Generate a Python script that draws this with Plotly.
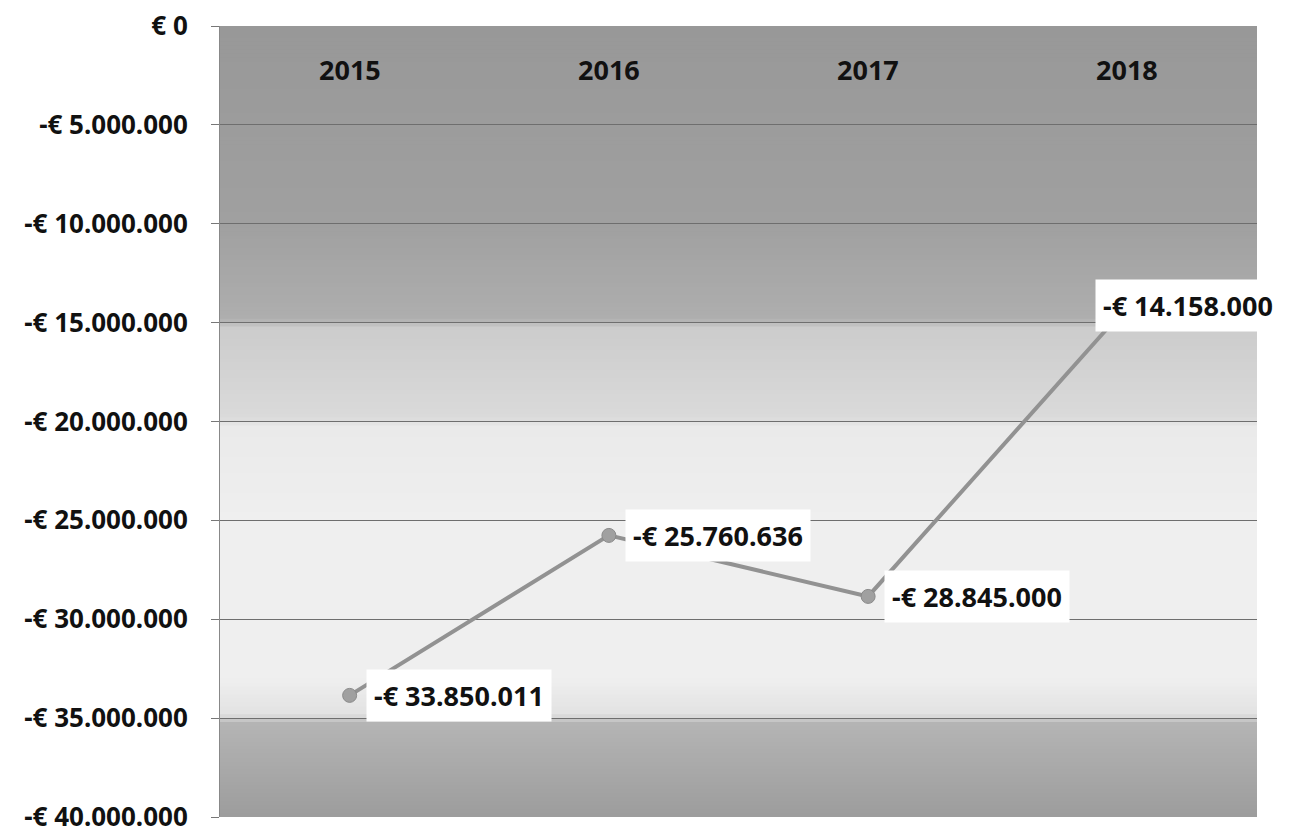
import plotly.graph_objects as go

years = ["2015", "2016", "2017", "2018"]
values = [-33850011, -25760636, -28845000, -14158000]
y_ticks = [0, -5000000, -10000000, -15000000, -20000000, -25000000, -30000000, -35000000, -40000000]


def eur(v):
    s = f"{abs(int(v)):,}".replace(",", ".")
    return ("-€ " if v < 0 else "€ ") + s


y_ticktext = [eur(v) for v in y_ticks]
label_text = [eur(v) for v in values]

FONT = "Noto Sans"

fig = go.Figure()

fig.add_trace(go.Scatter(
    x=list(range(len(years))), y=values, mode="lines+markers",
    line=dict(color="#929292", width=4),
    marker=dict(size=14, color="#a0a0a0", line=dict(color="#8a8a8a", width=1)),
    hoverinfo="skip", showlegend=False, cliponaxis=False,
))

# background gradient (dark top, light middle, dark bottom)
stops = [(0.0, 0x98), (-10e6, 0xa0), (-14.8e6, 0xae), (-15.3e6, 0xcc), (-19.8e6, 0xda),
         (-20.3e6, 0xea), (-25e6, 0xef), (-33e6, 0xef), (-34.8e6, 0xe2), (-35.3e6, 0xb4),
         (-40e6, 0x9c)]
n = 200
shapes = []
for i in range(n):
    y0 = -40e6 * i / n
    y1 = -40e6 * (i + 2) / n  # overlap next band to avoid seams
    ym = -40e6 * (i + 0.5) / n
    c = stops[-1][1]
    for (a, ca), (b, cb) in zip(stops[:-1], stops[1:]):
        if b <= ym <= a:
            t = (a - ym) / (a - b)
            c = int(round(ca + (cb - ca) * t))
            break
    shapes.append(dict(type="rect", xref="paper", yref="y", x0=0, x1=1, y0=y0,
                       y1=max(y1, -40e6), fillcolor=f"rgb({c},{c},{c})",
                       line=dict(width=0), layer="below"))

annotations = []
shifts = [16, 16, 16, 61]
anchors = ["left", "left", "left", "center"]
for i, (v, t, s, a) in enumerate(zip(values, label_text, shifts, anchors)):
    annotations.append(dict(
        x=i, y=v, xref="x", yref="y", text=f"<b>{t}</b>", showarrow=False,
        xanchor=a, yanchor="middle", xshift=s,
        font=dict(family=FONT, size=27, color="#111"),
        bgcolor="white", borderpad=7,
    ))

for i, yr in enumerate(years):
    annotations.append(dict(
        x=i, y=1, xref="x", yref="paper", text=f"<b>{yr}</b>", showarrow=False,
        xanchor="center", yanchor="middle", yshift=-43,
        font=dict(family=FONT, size=27, color="#111"),
    ))

fig.update_layout(
    width=1281, height=826,
    margin=dict(l=212, r=32, t=18, b=17),
    paper_bgcolor="white", plot_bgcolor="#d0d0d0",
    shapes=shapes, annotations=annotations,
    font=dict(family=FONT, size=26, color="#111"),
    xaxis=dict(
        range=[-0.5, 3.5], showticklabels=False,
        ticks="", showgrid=False, showline=False, zeroline=False,
    ),
    yaxis=dict(
        range=[-40000000, 0], tickvals=y_ticks, ticktext=y_ticktext,
        showgrid=True, gridcolor="#6e6e6e", gridwidth=1,
        zeroline=False, showline=True, linecolor="#888", linewidth=1,
        ticks="outside", ticklen=8, tickcolor="#777",
        tickfont=dict(family=FONT, size=26, color="#111", weight="bold"),
        ticklabelstandoff=18, ticklabeloverflow="allow", automargin=False,
    ),
)

fig.write_html("out.html")
